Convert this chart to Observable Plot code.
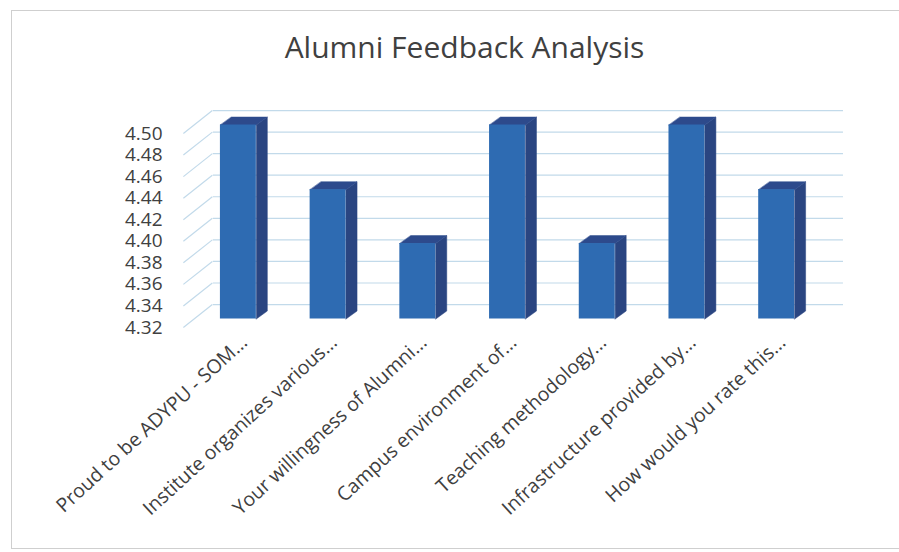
<!DOCTYPE html>
<html>
<head>
<meta charset="utf-8">
<script src="https://cdn.jsdelivr.net/npm/d3@7"></script>
<script src="https://cdn.jsdelivr.net/npm/@observablehq/plot@0.6"></script>
<style>
  html, body { margin: 0; padding: 0; background: #ffffff; }
  #wrap { position: relative; width: 899px; height: 552px; overflow: hidden; }
  #border { position: absolute; left: 11px; top: 10px; width: 900px; height: 539px;
            border: 1px solid #cfcfcf; pointer-events: none; box-sizing: border-box; }
</style>
</head>
<body>
<div id="wrap"><div id="border"></div></div>
<script>
// ---- data ----
const title = "Alumni Feedback Analysis";
const categories = [
  "Proud to be ADYPU - SOM...",
  "Institute organizes various...",
  "Your willingness of Alumni...",
  "Campus environment of...",
  "Teaching methodology...",
  "Infrastructure provided by...",
  "How would you rate this..."
];
const scores = [4.50, 4.44, 4.39, 4.50, 4.39, 4.50, 4.44];
const yTicks = [4.32, 4.34, 4.36, 4.38, 4.40, 4.42, 4.44, 4.46, 4.48, 4.50];

// ---- styling / 3D geometry (in scale units) ----
const frontColor = "#2e6bb2";
const sideColor = "#2a4581";
const topColor = "#2d4a8c";
const gridColor = "#c2daea";
const textColor = "#404040";
const halfW = 0.2;          // half bar width, in category units
const depthX = 0.123;       // bar depth, horizontal (category units)
const depthY = 0.0074;      // bar depth, vertical (value units)
const wallX = [-0.613, -0.29]; // side wall from front plane to back wall
const wallY = 0.0213;       // back wall offset (value units)
const backX = [-0.279, 6.745];
const base = yTicks[0];

const bars = categories.map((c, i) => ({c, i, v: scores[i]}));
const sidePts = [], topPts = [];
bars.forEach(b => {
  const xl = b.i - halfW, xr = b.i + halfW;
  sidePts.push({k: b.i, x: xr, y: base}, {k: b.i, x: xr + depthX, y: base + depthY},
               {k: b.i, x: xr + depthX, y: b.v + depthY}, {k: b.i, x: xr, y: b.v});
  topPts.push({k: b.i, x: xl, y: b.v}, {k: b.i, x: xr, y: b.v},
              {k: b.i, x: xr + depthX, y: b.v + depthY}, {k: b.i, x: xl + depthX, y: b.v + depthY});
});

const chart = Plot.plot({
  width: 899,
  height: 552,
  marginLeft: 193,
  marginRight: 78,
  marginTop: 133,
  marginBottom: 225,
  style: {fontFamily: "'Open Sans', sans-serif", color: textColor, background: "transparent"},
  x: {type: "linear", domain: [-0.5, categories.length - 0.5], axis: null},
  y: {domain: [yTicks[0], yTicks[yTicks.length - 1]], axis: null},
  marks: [
    // back wall gridlines
    Plot.ruleY(yTicks, {y: d => d + wallY, x1: () => backX[0], x2: () => backX[1], stroke: gridColor, strokeWidth: 1.2}),
    // side wall diagonals
    Plot.link(yTicks, {x1: () => wallX[0], x2: () => wallX[1], y1: d => d, y2: d => d + wallY, stroke: gridColor, strokeWidth: 1.2}),
    // bar sides and tops
    Plot.line(sidePts, {x: "x", y: "y", z: "k", fill: sideColor, stroke: sideColor, strokeWidth: 0.5, curve: "linear-closed", dy: -8.5}),
    Plot.line(topPts, {x: "x", y: "y", z: "k", fill: topColor, stroke: topColor, strokeWidth: 0.5, curve: "linear-closed", dy: -8.5}),
    // bar fronts
    Plot.rect(bars, {x1: d => d.i - halfW, x2: d => d.i + halfW, y1: () => base, y2: "v", fill: frontColor, dy: -8.5}),
    // y tick labels
    Plot.text(yTicks, {y: d => d, text: d => d.toFixed(2), frameAnchor: "left", textAnchor: "end", dx: -31, fontSize: 19, fill: textColor}),
    // x labels
    Plot.text(bars, {x: "i", text: "c", frameAnchor: "bottom", rotate: -42.5, textAnchor: "end", lineAnchor: "middle", dx: 6, dy: 12, fontSize: 19.5, fill: textColor}),
    // title
    Plot.text([title], {frameAnchor: "top", lineAnchor: "bottom", dy: -76, dx: -43, fontSize: 30, fill: textColor})
  ]
});
document.getElementById("wrap").appendChild(chart);
</script>
</body>
</html>
